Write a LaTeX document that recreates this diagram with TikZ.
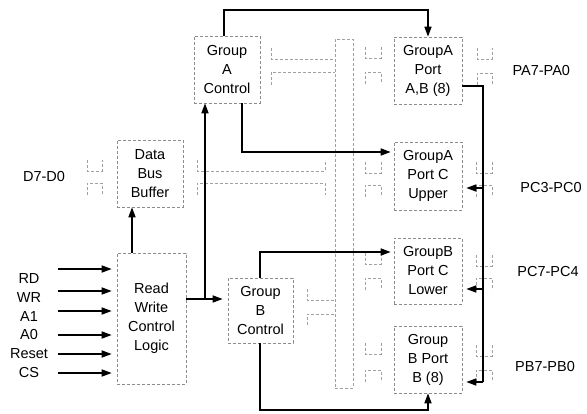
\documentclass[tikz,border=0pt]{standalone}
\usepackage{fontspec}
\setmainfont{Liberation Sans}
\usetikzlibrary{arrows.meta, positioning}
\definecolor{boxgray}{HTML}{8C8C8C}
\definecolor{busgray}{HTML}{A0A0A0}
% cup and cap pair of a port: x left, x right, cup top, cap top
\newcommand{\buspair}[4]{%
  \draw[busline] (#1,#3) -- (#1,#3+11) -- (#2,#3+11) -- (#2,#3);
  \draw[busline] (#1,#4+12) -- (#1,#4) -- (#2,#4) -- (#2,#4+12);
}

\begin{document}
\begin{tikzpicture}[x=1pt, y=-1pt, >={Triangle[length=10pt,width=7pt]},
    font=\fontsize{14.5pt}{19pt}\selectfont,
    blk/.style={draw=boxgray, densely dashed, line width=0.6pt, align=center, inner sep=0pt},
    wire/.style={line width=1.5pt, black},
    busline/.style={draw=busgray, densely dashed, line width=0.6pt},
    lbl/.style={inner sep=0pt}]

    \useasboundingbox (0,0) rectangle (587,413);

    % blocks
    \node[blk, minimum width=66pt, minimum height=67pt] (ctrlA) at (227,69.5) {Group\\A\\Control};
    \node[blk, minimum width=66pt, minimum height=67pt] (dbb) at (150,173.5) {Data\\Bus\\Buffer};
    \node[blk, minimum width=69pt, minimum height=131pt] (rwcl) at (151.5,318.5) {Read\\Write\\Control\\Logic};
    \node[blk, minimum width=65pt, minimum height=65pt] (ctrlB) at (260.5,310.5) {Group\\B\\Control};

    \node[blk, minimum width=68pt, minimum height=67pt] (portA) at (428,70.5) {GroupA\\Port\\A,B (8)};
    \node[blk, minimum width=68pt, minimum height=68pt] (portCU) at (428,176) {GroupA\\Port C\\Upper};
    \node[blk, minimum width=68pt, minimum height=66pt] (portCL) at (428,271) {GroupB\\Port C\\Lower};
    \node[blk, minimum width=68pt, minimum height=67pt] (portB) at (428,359.5) {Group\\B Port\\B (8)};

    % internal bus
    \node[draw=busgray, densely dashed, line width=0.6pt, minimum width=18pt, minimum height=349pt, inner sep=0pt] (bus) at (344,213.5) {};

    % bus symbols
    \draw[busline] (271,48) -- (271,59) -- (bus.west |- 0,59);
    \draw[busline] (271,85) -- (271,72) -- (bus.west |- 0,72);
    \draw[busline] (307,289) -- (307,300) -- (bus.west |- 0,300);
    \draw[busline] (307,325) -- (307,314) -- (bus.west |- 0,314);
    \buspair{197}{325}{160}{183}
    \buspair{87}{102}{160}{183}
    \buspair{365}{381}{47}{72}
    \buspair{477}{492}{48}{73}
    \buspair{365}{381}{162}{185}
    \buspair{476}{492}{162}{185}
    \buspair{365}{381}{253}{278}
    \buspair{476}{492}{255}{278}
    \buspair{365}{381}{343}{370}
    \buspair{476}{492}{345}{370}

    % outside labels
    \node[lbl] (lblD) at (44,177) {D7-D0};
    \node[lbl, right=50pt of portA] (lblPA) {PA7-PA0};
    \node[lbl] (lblPCU) at (551,188) {PC3-PC0};
    \node[lbl] (lblPCL) at (548,272) {PC7-PC4};
    \node[lbl] (lblPB) at (545,367) {PB7-PB0};

    % control inputs
    \foreach \sig/\ly/\ay in {RD/279/269, WR/298/291, A1/317/311, A0/335/335, Reset/354/354, CS/373/373} {
        \node[lbl] (in\sig) at (29,\ly) {\sig};
        \coordinate (src\sig) at (58,\ay);
        \draw[wire, ->, shorten >=5pt] (src\sig) -- (src\sig -| rwcl.west);
    }

    % connectors
    \coordinate (topA) at (224,10);
    \draw[wire, ->] (ctrlA.north -| topA) -- (topA) -- (topA -| portA.north) -- (portA.north);
    \coordinate (dnA) at (242,152);
    \draw[wire, ->, shorten >=3pt] (ctrlA.south -| dnA) -- (dnA) -- (dnA -| portCU.west);
    \coordinate (rwout) at (205,299);
    \draw[wire, ->, shorten >=5pt] (rwout -| rwcl.east) -- (rwout -| ctrlB.west);
    \draw[wire, ->] (rwout) -- (rwout |- ctrlA.south);
    \draw[wire, ->] (rwcl.north -| 132,0) -- (dbb.south -| 132,0);
    \coordinate (upB) at (260,252);
    \draw[wire, ->, shorten >=3pt] (ctrlB.north -| upB) -- (upB) -- (upB -| portCL.west);
    \coordinate (botB) at (260,410);
    \draw[wire, ->] (ctrlB.south -| botB) -- (botB) -- (botB -| portB.south) -- (portB.south);

    % port A to port C and port B
    \coordinate (rail) at (483,86);
    \draw[wire] ([yshift=-15.5pt]portA.east) -- (rail) -- (rail |- 0,382);
    \draw[wire, ->, shorten >=4pt] (rail |- 0,188) -- (portCU.east |- 0,188);
    \draw[wire, ->, shorten >=4pt] (rail |- 0,289) -- (portCL.east |- 0,289);
    \draw[wire, ->, shorten >=4pt] (rail |- 0,382) -- (portB.east |- 0,382);
\end{tikzpicture}
\end{document}
